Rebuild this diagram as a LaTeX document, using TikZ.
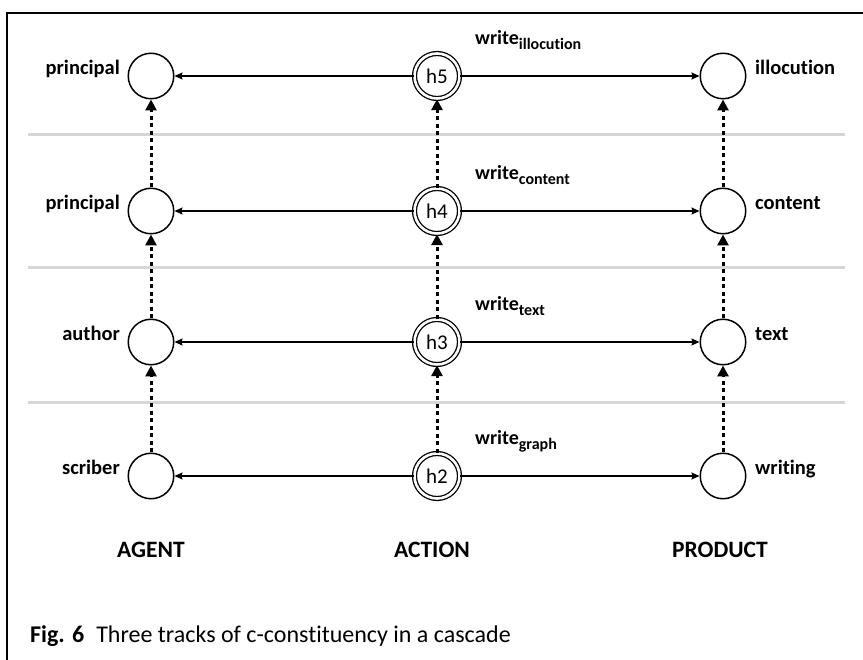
\documentclass[tikz,border=0pt]{standalone}
\usepackage{fontspec}
\setmainfont[Ligatures=NoCommon,RawFeature={-liga;-calt}]{Carlito}
\usetikzlibrary{arrows.meta}

\begin{document}
\begin{tikzpicture}[x=1pt,y=-1pt,
  lbl/.style={font=\fontsize{20.5}{24}\selectfont\bfseries,inner sep=0pt},
  wlbl/.style={font=\fontsize{20}{22}\selectfont\bfseries,inner sep=0pt},
  head/.style={font=\fontsize{23.5}{26}\selectfont\bfseries,inner sep=0pt},
  state/.style={circle,draw,line width=1.5pt,minimum size=45.5pt,inner sep=0pt},
  act/.style={circle,draw,double,double distance=2.6pt,line width=1.3pt,
    minimum size=45pt,inner sep=0pt,font=\fontsize{21}{24}\selectfont},
  hline/.style={line width=1.3pt,-{Stealth[length=8pt,width=7pt,inset=1pt]}},
  vline/.style={line width=3pt,dash pattern=on 4pt off 3.5pt,
    -{Triangle[length=11pt,width=11pt]}},
  sep/.style={line width=3pt,color=black!16},
  frame/.style={line width=2.5pt}
]
\useasboundingbox (0,0) rectangle (863,660);

% partial frame: left and top edges
\draw[frame] (7,662) -- (7,13) -- (866,13);

% separators between the levels
\foreach \sy in {135,268,403}
  \draw[sep] (28,\sy) -- (845,\sy);

% one row per level: agent, action, product
\foreach \r/\y/\ag/\pr/\sub in {5/76/principal/illocution/illocution,
                                4/211/principal/content/content,
                                3/342/author/text/text,
                                2/476/scriber/writing/graph}{
  \node[state] (ag\r) at (151,\y) {};
  \node[act]   (ac\r) at (437,\y) {h\r};
  \node[state] (pr\r) at (723,\y) {};
  \node[lbl,anchor=base east] (agl\r) at (120,\y-1.5) {\ag};
  \node[lbl,anchor=base west] (prl\r) at (755,\y-1.5) {\pr};
  \node[wlbl,anchor=base west] (wl\r) at (475,\y-31)
    {write\raisebox{-5pt}{\fontsize{16}{17}\selectfont\bfseries\sub}};
  \draw[hline] (ac\r) -- (ag\r);
  \draw[hline] (ac\r) -- (pr\r);
}

% cascade between levels
\foreach \c in {ag,ac,pr}{
  \draw[vline] (\c2) -- (\c3);
  \draw[vline] (\c3) -- (\c4);
  \draw[vline] (\c4) -- (\c5);
}

% column headings
\node[head,anchor=base] (hAgent)   at (151,557) {AGENT};
\node[head,anchor=base] (hAction)  at (432,557) {ACTION};
\node[head,anchor=base] (hProduct) at (720,557) {PRODUCT};

% caption
\node[anchor=base west,inner sep=0pt,font=\fontsize{24}{27}\selectfont] (cap) at (30,642)
  {\textbf{Fig. 6}\hspace{12pt}Three tracks of c-constituency in a cascade};
\end{tikzpicture}
\end{document}
